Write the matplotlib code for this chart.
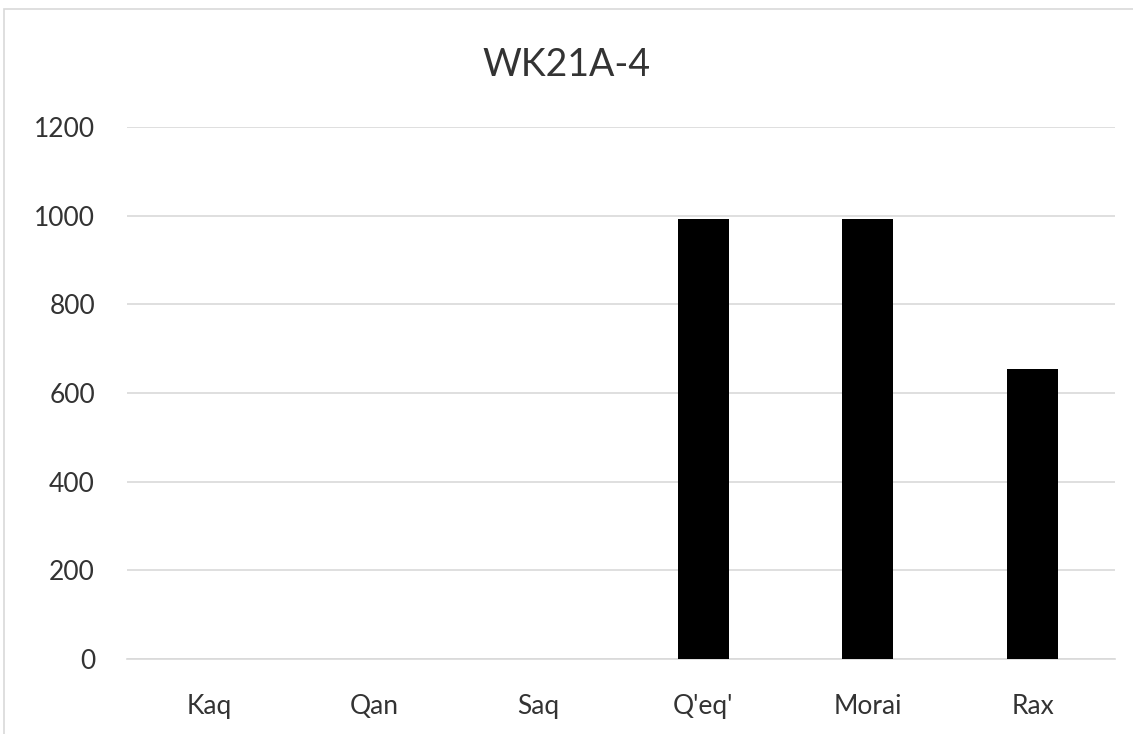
import matplotlib.pyplot as plt
from matplotlib.patches import Rectangle

# Data
categories = ["Kaq", "Qan", "Saq", "Q'eq'", "Morai", "Rax"]
values = [0, 0, 0, 993, 993, 655]
title = "WK21A-4"

plt.rcParams['font.family'] = ['Lato', 'DejaVu Sans']

fig = plt.figure(figsize=(11.33, 7.34), dpi=100)
ax = fig.add_axes([0.1121, 0.1022, 0.8719, 0.7248])

x = range(len(categories))
ax.bar(x, values, width=0.31, color='black', zorder=3)

ax.set_xlim(-0.5, len(categories) - 0.5)
ax.set_ylim(0, 1200)
ax.set_yticks(range(0, 1201, 200))
ax.set_xticks(list(x))
ax.set_xticklabels(categories)

ax.grid(axis='y', color='#d9d9d9', linewidth=1.2, zorder=0)
for side in ['top', 'right', 'left']:
    ax.spines[side].set_visible(False)
ax.spines['bottom'].set_color('#d9d9d9')
ax.spines['bottom'].set_linewidth(1.2)
ax.tick_params(axis='both', length=0, labelsize=19, colors='#333333')
ax.tick_params(axis='y', pad=23)
ax.tick_params(axis='x', pad=25)

fig.text(0.5, 0.912, title, ha='center', va='center', fontsize=27, color='#333333')

# outer chart frame
fig.patches.append(Rectangle((4 / 1133, -0.05), 1.2, 1 - 9 / 734 + 0.05,
                             transform=fig.transFigure, fill=False,
                             edgecolor='#d9d9d9', linewidth=1.2))

fig.savefig('out.png', dpi=100)
